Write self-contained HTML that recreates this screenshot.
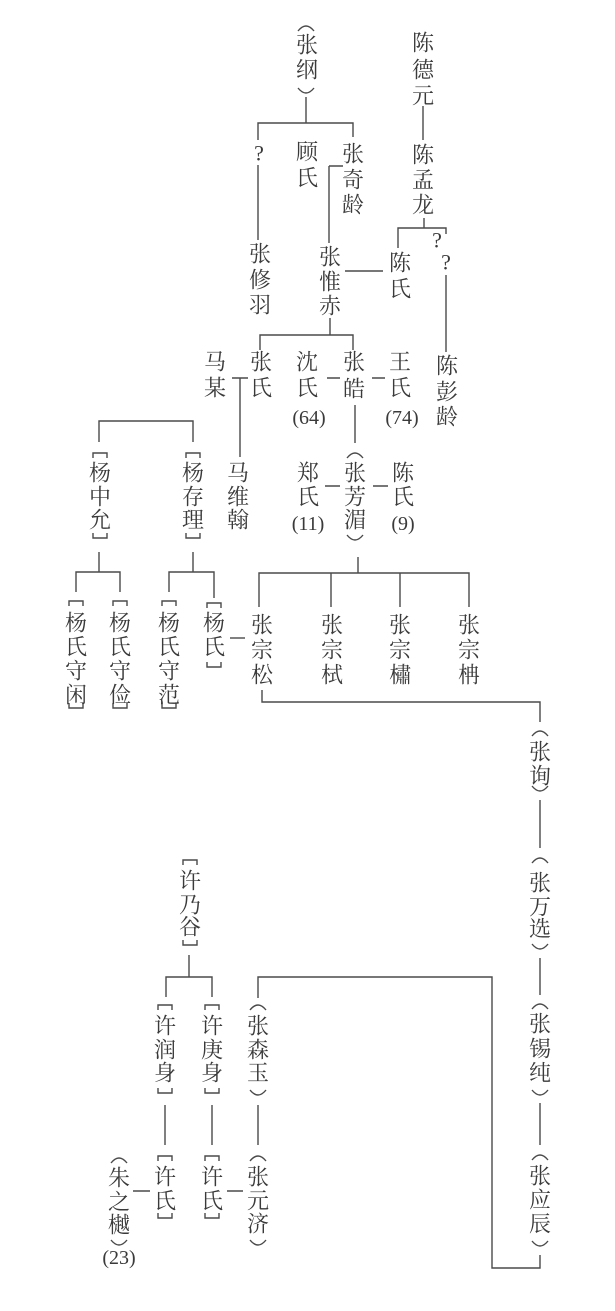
<!DOCTYPE html>
<html><head><meta charset="utf-8"><style>
html,body{margin:0;padding:0;background:#fff;}
svg{display:block;}
text{font-family:"Liberation Serif","Noto Serif CJK SC","Noto Sans CJK SC",serif;font-size:22px;fill:#3a3a3a;text-anchor:middle;dominant-baseline:central;}
text.n{font-size:20px;}
path{stroke:#4a4a4a;stroke-width:1.4;fill:none;}
</style></head><body>
<svg width="615" height="1311" viewBox="0 0 615 1311" xmlns="http://www.w3.org/2000/svg">
<!-- lines -->
<path d="M306 97V123M258 140V123H353V137M258 165V240"/>
<path d="M329 166H343M329 166V243M345 271H383"/>
<path d="M423 106V140M424 218V228M398 248V228H446V234M446 275V352"/>
<path d="M330 318V335M260 350V335H353V350"/>
<path d="M232 378H248M240 378V457M327 378H340M372 378H385M355 405V443"/>
<path d="M99 442V421H193V442"/>
<path d="M325 486H340M373 486H388"/>
<path d="M358 557V573M259 607V573H469V607M331 573V607M400 573V607"/>
<path d="M99 552V572M76 592V572H120V592M193 552V572M169 592V572H214V598"/>
<path d="M230 638H245"/>
<path d="M262 690V702H540V722M540 800V848M540 958V995M540 1103V1145"/>
<path d="M540 1255V1268H492V977H258V998"/>
<path d="M189 955V977M166 997V977H212V997"/>
<path d="M165 1105V1145M212 1105V1145M258 1105V1145M133 1191H150M227 1191H243"/>
<!-- parens: top / bottom -->
<path d="M298 31Q306 21 314 31M298 88Q306 98 314 88"/>
<path d="M347 458Q355 448 363 458M347 535Q355 545 363 535"/>
<path d="M532 736Q540 726 548 736M532 786Q540 796 548 786"/>
<path d="M532 863Q540 853 548 863M532 944Q540 954 548 944"/>
<path d="M532 1009Q540 999 548 1009M532 1090Q540 1100 548 1090"/>
<path d="M532 1160Q540 1150 548 1160M532 1241Q540 1251 548 1241"/>
<path d="M250 1010Q258 1000 266 1010M250 1090Q258 1100 266 1090"/>
<path d="M250 1161Q258 1151 266 1161M250 1240Q258 1250 266 1240"/>
<path d="M111 1163Q119 1153 127 1163M111 1240Q119 1250 127 1240"/>
<!-- brackets -->
<path d="M93 458V453H107V458M93 533V538H107V533"/>
<path d="M186 458V453H200V458M186 533V538H200V533"/>
<path d="M69 606V601H83V606M69 703V708H83V703"/>
<path d="M113 606V601H127V606M113 703V708H127V703"/>
<path d="M162 606V601H176V606M162 703V708H176V703"/>
<path d="M207 608V603H221V608M207 662V667H221V662"/>
<path d="M183 865V860H197V865M183 940V945H197V940"/>
<path d="M158 1010V1005H172V1010M158 1088V1093H172V1088"/>
<path d="M205 1010V1005H219V1010M205 1088V1093H219V1088"/>
<path d="M158 1161V1156H172V1161M158 1213V1218H172V1213"/>
<path d="M205 1161V1156H219V1161M205 1213V1218H219V1213"/>
<!-- text -->
<text x="307" y="45">张</text><text x="307" y="70">纲</text>
<text x="259" y="153">?</text>
<text x="260" y="254">张</text><text x="260" y="280">修</text><text x="260" y="305">羽</text>
<text x="307" y="152">顾</text><text x="307" y="178">氏</text>
<text x="353" y="154">张</text><text x="353" y="180">奇</text><text x="353" y="205">龄</text>
<text x="330" y="257">张</text><text x="330" y="282">惟</text><text x="330" y="306">赤</text>
<text x="400" y="263">陈</text><text x="400" y="289">氏</text>
<text x="423" y="43">陈</text><text x="423" y="70">德</text><text x="423" y="96">元</text>
<text x="423" y="155">陈</text><text x="423" y="180">孟</text><text x="423" y="205">龙</text>
<text x="437" y="240">?</text><text x="446" y="262">?</text>
<text x="447" y="366">陈</text><text x="447" y="392">彭</text><text x="447" y="417">龄</text>
<text x="261" y="362">张</text><text x="261" y="388">氏</text>
<text x="215" y="362">马</text><text x="215" y="388">某</text>
<text x="307" y="362">沈</text><text x="307" y="388">氏</text><text class="n" x="309" y="418">(64)</text>
<text x="354" y="362">张</text><text x="354" y="389">皓</text>
<text x="400" y="362">王</text><text x="400" y="388">氏</text><text class="n" x="402" y="418">(74)</text>
<text x="100" y="473">杨</text><text x="100" y="497">中</text><text x="100" y="520">允</text>
<text x="193" y="473">杨</text><text x="193" y="497">存</text><text x="193" y="520">理</text>
<text x="238" y="473">马</text><text x="238" y="497">维</text><text x="238" y="520">翰</text>
<text x="308" y="473">郑</text><text x="308" y="497">氏</text><text class="n" x="308" y="524">(11)</text>
<text x="355" y="473">张</text><text x="355" y="497">芳</text><text x="355" y="520">湄</text>
<text x="403" y="473">陈</text><text x="403" y="497">氏</text><text class="n" x="403" y="524">(9)</text>
<text x="262" y="625">张</text><text x="262" y="650">宗</text><text x="262" y="675">松</text>
<text x="332" y="625">张</text><text x="332" y="650">宗</text><text x="332" y="675">栻</text>
<text x="400" y="625">张</text><text x="400" y="650">宗</text><text x="400" y="675">橚</text>
<text x="469" y="625">张</text><text x="469" y="650">宗</text><text x="469" y="675">柟</text>
<text x="76" y="623">杨</text><text x="76" y="647">氏</text><text x="76" y="671">守</text><text x="76" y="695">闲</text>
<text x="120" y="623">杨</text><text x="120" y="647">氏</text><text x="120" y="671">守</text><text x="120" y="695">俭</text>
<text x="169" y="623">杨</text><text x="169" y="647">氏</text><text x="169" y="671">守</text><text x="169" y="695">范</text>
<text x="214" y="623">杨</text><text x="214" y="647">氏</text>
<text x="540" y="752">张</text><text x="540" y="776">询</text>
<text x="540" y="883">张</text><text x="540" y="907">万</text><text x="540" y="929">选</text>
<text x="540" y="1024">张</text><text x="540" y="1049">锡</text><text x="540" y="1073">纯</text>
<text x="540" y="1176">张</text><text x="540" y="1200">应</text><text x="540" y="1224">辰</text>
<text x="190" y="881">许</text><text x="190" y="905">乃</text><text x="190" y="927">谷</text>
<text x="165" y="1026">许</text><text x="165" y="1050">润</text><text x="165" y="1073">身</text>
<text x="212" y="1026">许</text><text x="212" y="1050">庚</text><text x="212" y="1073">身</text>
<text x="258" y="1026">张</text><text x="258" y="1050">森</text><text x="258" y="1073">玉</text>
<text x="165" y="1177">许</text><text x="165" y="1201">氏</text>
<text x="212" y="1177">许</text><text x="212" y="1201">氏</text>
<text x="258" y="1177">张</text><text x="258" y="1201">元</text><text x="258" y="1224">济</text>
<text x="119" y="1178">朱</text><text x="119" y="1202">之</text><text x="119" y="1225">樾</text>
<text class="n" x="119" y="1258">(23)</text>
</svg>
</body></html>
